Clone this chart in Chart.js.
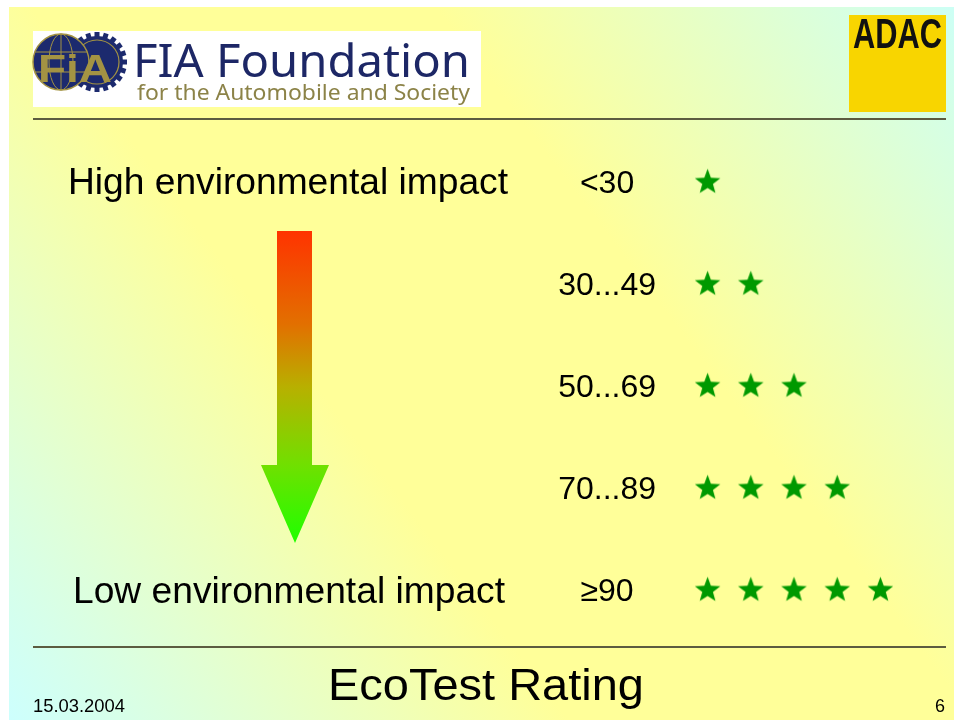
<!DOCTYPE html>
<html lang="en">
<head>
  <meta charset="UTF-8">
  <title>EcoTest Rating</title>
  <script src="https://cdn.jsdelivr.net/npm/chart.js@4"></script>
  <style>
    body { margin: 0; background: #fff; }
    canvas { display: block; }
  </style>
</head>
<body>
  <canvas id="ratingChart" width="954" height="720"></canvas>

<script>
  // rating bands (row labels) and how many stars each one gets
  const categories = ['<30', '30...49', '50...69', '70...89', '\u226590']
  const starCounts = [1, 2, 3, 4, 5]

  const topText = 'High environmental impact'
  const bottomText = 'Low environmental impact'
  const title = 'EcoTest Rating'
  const dateText = '15.03.2004'
  const pageText = '6'

  const SANS = '"Liberation Sans", Arial, sans-serif'

  // one point per star
  let points = []
  categories.forEach((cat, i) => {
    for (let s = 1; s <= starCounts[i]; s++) points.push({ x: s, y: cat })
  })

  function makeStar(r, color) {
    const size = Math.ceil(r * 2 + 2)
    const c = document.createElement('canvas')
    c.width = size
    c.height = size
    const g = c.getContext('2d')
    g.translate(size / 2, size / 2 + r * 0.095)
    g.beginPath()
    for (let k = 0; k < 10; k++) {
      const rad = k % 2 === 0 ? r : r * 0.42
      const a = -Math.PI / 2 + k * Math.PI / 5
      g.lineTo(Math.cos(a) * rad, Math.sin(a) * rad)
    }
    g.closePath()
    g.fillStyle = color
    g.fill()
    return c
  }

  // draw text squeezed/stretched to a given width
  function fitText(ctx, text, x, y, font, width, color) {
    ctx.save()
    ctx.font = font
    ctx.fillStyle = color
    ctx.textAlign = 'left'
    ctx.textBaseline = 'alphabetic'
    const w = ctx.measureText(text).width
    ctx.translate(x, y)
    ctx.scale(width / w, 1)
    ctx.fillText(text, 0, 0)
    ctx.restore()
  }

  function drawFiaLogo(ctx) {
    ctx.save()
    ctx.fillStyle = '#ffffff'
    ctx.fillRect(33, 31, 448, 76)

    const navy = '#1c2a6e'
    const gold = '#a39343'

    // gear (right circle)
    ctx.fillStyle = navy
    for (let k = 0; k < 20; k++) {
      ctx.save()
      ctx.translate(97, 62)
      ctx.rotate(k * Math.PI / 10)
      ctx.fillRect(-2.5, -30, 5, 6)
      ctx.restore()
    }
    ctx.beginPath()
    ctx.arc(97, 62, 26, 0, Math.PI * 2)
    ctx.fill()
    ctx.strokeStyle = gold
    ctx.lineWidth = 1.2
    ctx.beginPath()
    ctx.arc(97, 62, 22, 0, Math.PI * 2)
    ctx.stroke()

    // globe (left circle)
    ctx.fillStyle = navy
    ctx.beginPath()
    ctx.arc(61, 62, 28, 0, Math.PI * 2)
    ctx.fill()
    ctx.strokeStyle = gold
    ctx.lineWidth = 1.5
    ctx.stroke()
    ctx.lineWidth = 1
    ctx.beginPath()
    ctx.ellipse(61, 62, 12, 28, 0, 0, Math.PI * 2)
    ctx.moveTo(61, 34)
    ctx.lineTo(61, 90)
    ctx.moveTo(35, 52)
    ctx.lineTo(87, 52)
    ctx.moveTo(35, 72)
    ctx.lineTo(87, 72)
    ctx.stroke()

    // letters
    fitText(ctx, 'FiA', 38, 82, 'bold 38px ' + SANS, 74, gold)
    ctx.restore()

    fitText(ctx, 'FIA Foundation', 133, 77, '46px "Noto Sans", Lato, sans-serif', 337, '#1d2766')
    fitText(ctx, 'for the Automobile and Society', 137, 100, '22px "Noto Sans", Lato, sans-serif', 333, '#8c8348')
  }

  function drawAdac(ctx) {
    ctx.fillStyle = '#f8d500'
    ctx.fillRect(849, 15, 97, 97)
    fitText(ctx, 'ADAC', 853, 48, 'bold 42px ' + SANS, 89, '#111111')
  }

  function drawArrow(ctx) {
    const grad = ctx.createLinearGradient(0, 231, 0, 543)
    grad.addColorStop(0, '#ff3300')
    grad.addColorStop(0.3, '#e27000')
    grad.addColorStop(0.5, '#b8b000')
    grad.addColorStop(0.75, '#70e000')
    grad.addColorStop(1, '#1eff00')
    ctx.fillStyle = grad
    ctx.beginPath()
    ctx.moveTo(277, 231)
    ctx.lineTo(312, 231)
    ctx.lineTo(312, 465)
    ctx.lineTo(329, 465)
    ctx.lineTo(295, 543)
    ctx.lineTo(261, 465)
    ctx.lineTo(277, 465)
    ctx.closePath()
    ctx.fill()
  }

  const slidePlugin = {
    id: 'slide',
    beforeDraw(chart) {
      const ctx = chart.ctx
      ctx.save()
      ctx.fillStyle = '#ffffff'
      ctx.fillRect(0, 0, 954, 720)
      const bg = ctx.createLinearGradient(954, 0, 0, 720)
      bg.addColorStop(0, '#ccfff6')
      bg.addColorStop(0.35, '#ffff99')
      bg.addColorStop(0.62, '#ffff99')
      bg.addColorStop(1, '#ccffff')
      ctx.fillStyle = bg
      ctx.fillRect(9, 7, 945, 713)

      // rules
      ctx.fillStyle = '#5c5c40'
      ctx.fillRect(33, 118, 913, 2)
      ctx.fillRect(33, 646, 913, 2)

      drawFiaLogo(ctx)
      drawAdac(ctx)
      drawArrow(ctx)

      fitText(ctx, topText, 68, 194, '37px ' + SANS, 440, '#000')
      fitText(ctx, bottomText, 73, 603, '37px ' + SANS, 432, '#000')
      fitText(ctx, title, 328, 700, '44px ' + SANS, 316, '#000')
      fitText(ctx, dateText, 33, 712, '18px ' + SANS, 92, '#000')
      fitText(ctx, pageText, 935, 712, '18px ' + SANS, 10, '#000')
      ctx.restore()
    }
  }

  const star = makeStar(13.4, '#009900')

  new Chart(document.getElementById('ratingChart'), {
    type: 'scatter',
    data: {
      datasets: [{
        data: points,
        pointStyle: star,
        pointRadius: 13,
        showLine: false
      }]
    },
    options: {
      responsive: false,
      devicePixelRatio: 1,
      animation: false,
      layout: { padding: { left: 556, right: 52, top: 130, bottom: 80 } },
      plugins: { legend: { display: false }, tooltip: { enabled: false } },
      scales: {
        x: { type: 'linear', min: 0.5, max: 5.5, display: false },
        y: {
          type: 'category',
          labels: categories,
          offset: true,
          grid: { display: false, drawTicks: false },
          border: { display: false },
          ticks: {
            color: '#000',
            font: { family: '"Liberation Sans", Arial, sans-serif', size: 32 },
            crossAlign: 'center',
            padding: 30,
            labelOffset: 3
          },
          afterFit: s => { s.width = 130 }
        }
      }
    },
    plugins: [slidePlugin]
  })
</script>
</body>
</html>
